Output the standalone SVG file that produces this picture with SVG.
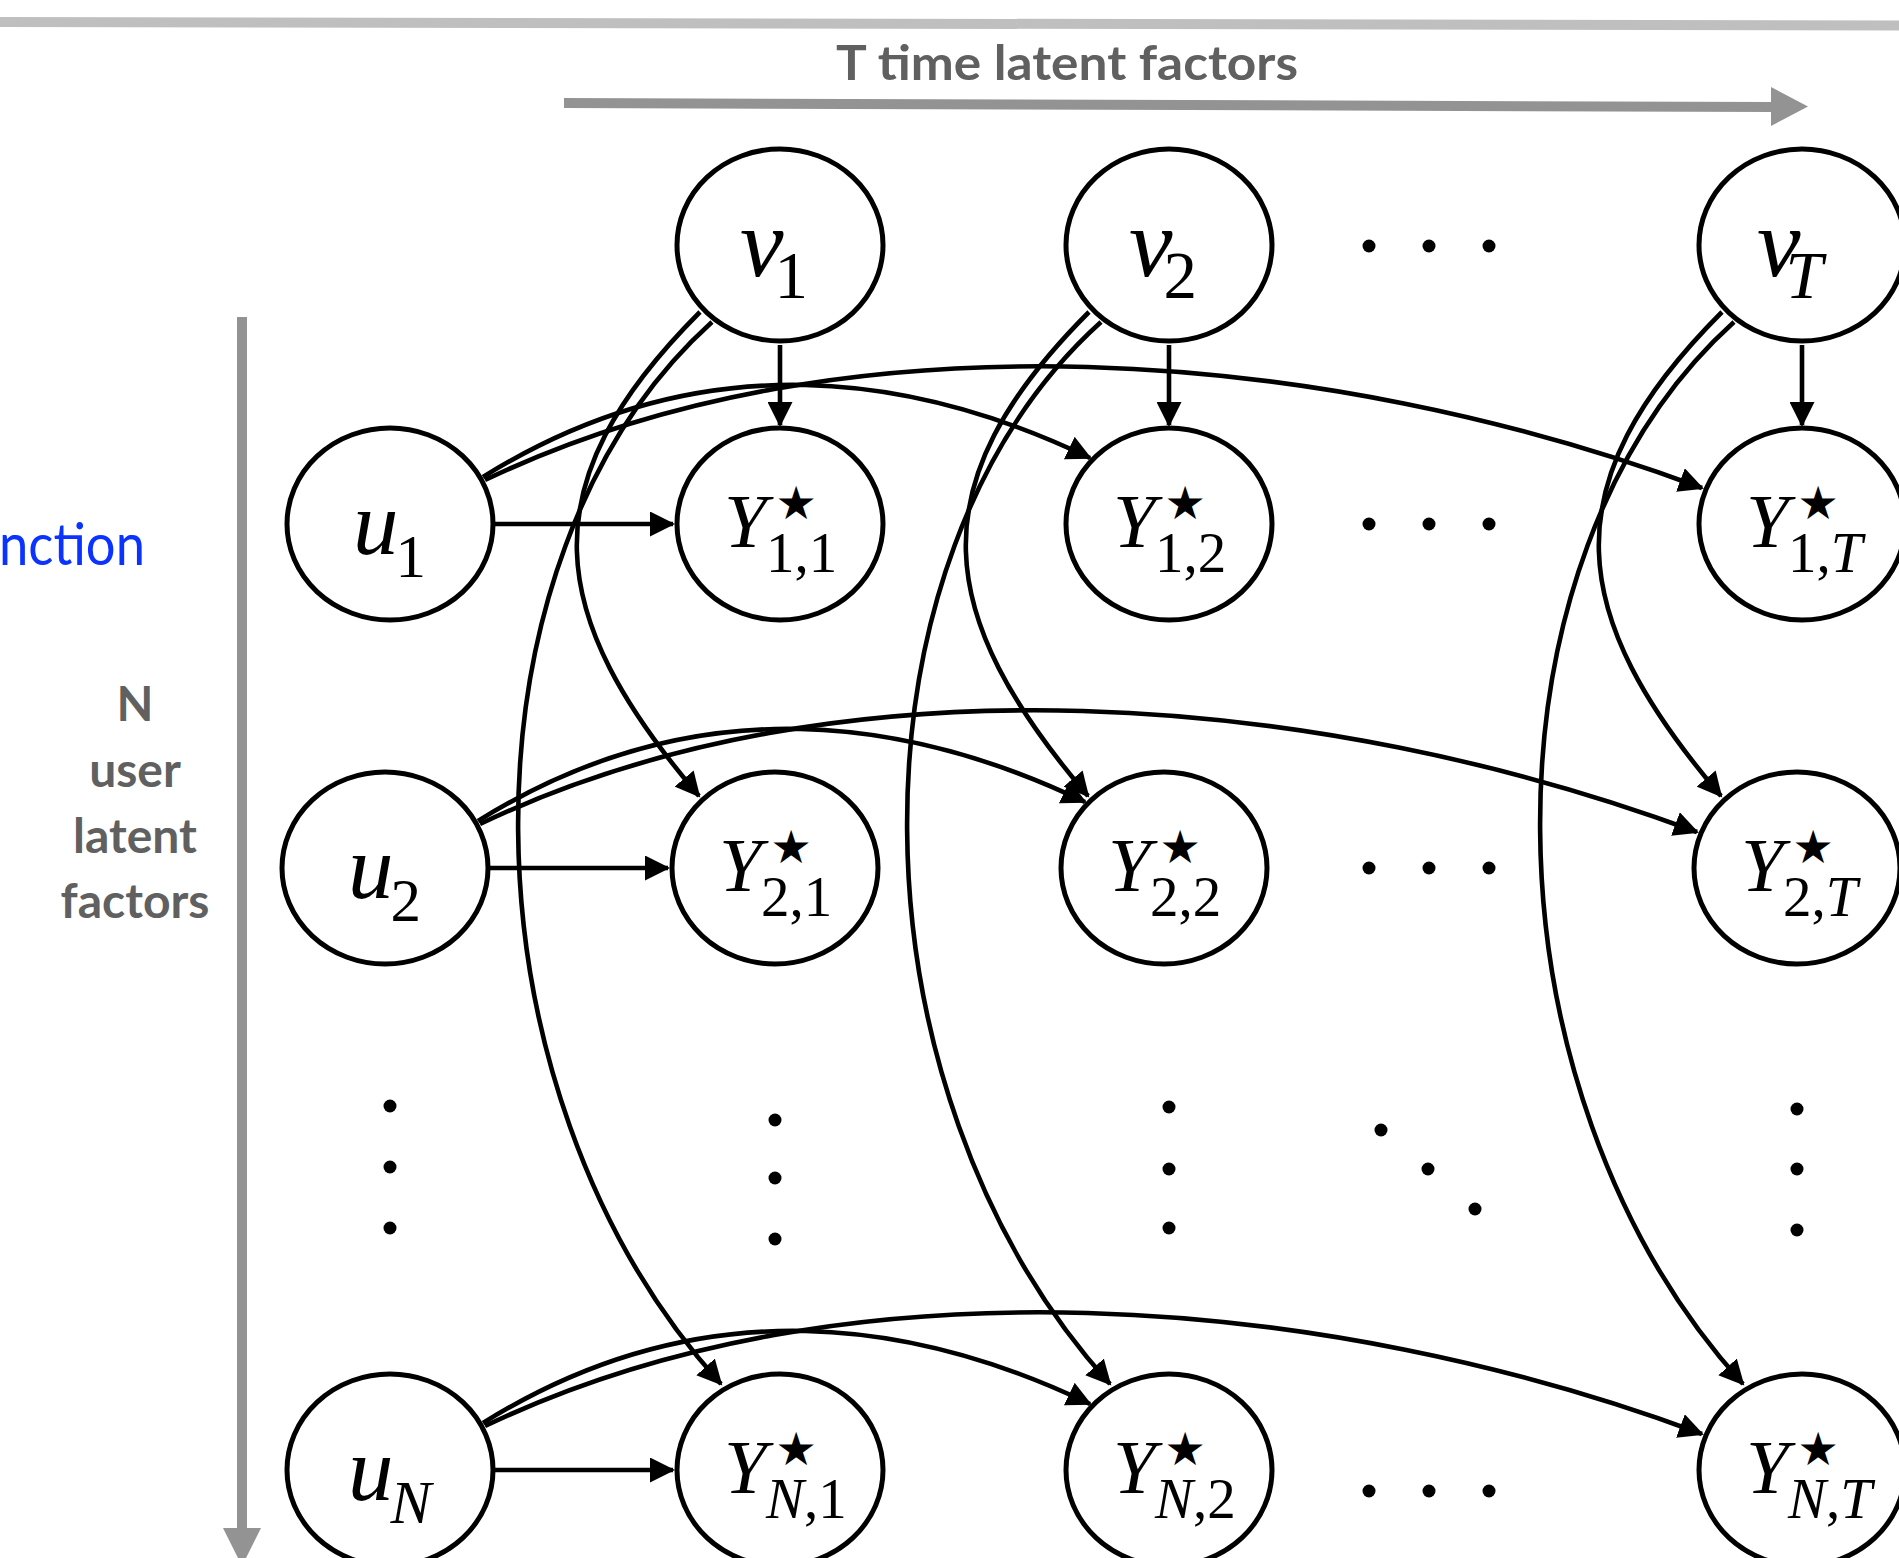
<svg xmlns="http://www.w3.org/2000/svg" width="1899" height="1558" viewBox="0 0 1899 1558">
<style>
.node{fill:#fff;stroke:#000;stroke-width:5}
.edge{fill:none;stroke:#000;stroke-width:4.6}
.mi{font-family:"Liberation Serif","Times New Roman",serif;font-style:italic;fill:#000}
.rm{font-family:"Liberation Serif","Times New Roman",serif;fill:#000}
.up{font-style:normal}
.it{font-style:italic}
.star{font-family:"DejaVu Sans",sans-serif;font-size:46px;text-anchor:middle;fill:#000}
.ylab{font-size:77px}
.ysub{font-size:57px}
.ulab{font-size:91px}
.vlab{font-size:98px}
.gray{font-family:Lato,"Open Sans",sans-serif;font-weight:700;fill:#606060}
.dot{fill:#000}
</style>
<defs>
<marker id="ah" markerUnits="userSpaceOnUse" markerWidth="27" markerHeight="25" viewBox="0 0 27 25" refX="23" refY="12.5" orient="auto">
<path d="M0,0 L25,12.5 L0,25 z" fill="#000"/>
</marker>
</defs>
<rect width="1899" height="1558" fill="#fff"/>

<g id="decor">
<line x1="0" y1="22" x2="1899" y2="25.5" stroke="#bfbfbf" stroke-width="10"/>
<line x1="564" y1="103" x2="1773" y2="107" stroke="#939393" stroke-width="10"/>
<polygon points="1771,87 1808,106.5 1771,126" fill="#939393"/>
<text class="gray" x="1067" y="80" font-size="48" text-anchor="middle" textLength="462" lengthAdjust="spacingAndGlyphs">T time latent factors</text>
<line x1="242" y1="317" x2="242" y2="1530" stroke="#939393" stroke-width="10"/>
<polygon points="223,1528 261,1528 242,1566" fill="#939393"/>
<text x="-1" y="565" font-family="Lato,'Open Sans',sans-serif" font-size="58" fill="#0a33ff" textLength="146" lengthAdjust="spacingAndGlyphs">nction</text>
<g class="gray" font-size="48" text-anchor="middle">
<text x="135" y="721">N</text>
<text x="135" y="787">user</text>
<text x="135" y="853">latent</text>
<text x="135" y="918">factors</text>
</g>
</g>

<g id="connectors" class="edge" marker-end="url(#ah)">
<path d="M780,345 L780,425"/>
<path d="M1169,345 L1169,425"/>
<path d="M1802,345 L1802,425"/>
<path d="M495,524 L673,524"/>
<path d="M490,868 L668,868"/>
<path d="M495,1470 L673,1470"/>
<path d="M483,477 C704,339 919,376 1090,458"/>
<path d="M485,480 C845,308 1326,348 1702,488"/>
<path d="M478,821 C699,683 914,720 1085,802"/>
<path d="M480,824 C840,652 1321,692 1697,832"/>
<path d="M483,1423 C704,1285 919,1322 1090,1404"/>
<path d="M485,1426 C845,1254 1326,1294 1702,1434"/>
<path d="M700,312 C527,485 545,615 699,796"/>
<path d="M712,322 C451,557 453,1088 721,1384"/>
<path d="M1089,312 C916,485 934,615 1088,796"/>
<path d="M1101,322 C840,557 842,1088 1110,1384"/>
<path d="M1722,312 C1549,485 1567,615 1721,796"/>
<path d="M1734,322 C1473,557 1475,1088 1743,1384"/>
</g>

<g id="v1"><ellipse class="node" cx="780" cy="245" rx="103" ry="96"/><text class="mi vlab" x="740" y="276">v<tspan class="up" font-size="67" dx="-9" dy="22">1</tspan></text></g>
<g id="v2"><ellipse class="node" cx="1169" cy="245" rx="103" ry="96"/><text class="mi vlab" x="1129" y="276">v<tspan class="up" font-size="67" dx="-9" dy="22">2</tspan></text></g>
<g id="vT"><ellipse class="node" cx="1802" cy="245" rx="103" ry="96"/><text class="mi vlab" x="1757" y="276">v<tspan font-size="67" dx="-15" dy="22">T</tspan></text></g>

<g id="u1"><ellipse class="node" cx="390" cy="524" rx="103" ry="96"/><text class="mi ulab" x="353" y="554">u<tspan class="up" font-size="61" dx="-3" dy="23">1</tspan></text></g>
<g id="u2"><ellipse class="node" cx="385" cy="868" rx="103" ry="96"/><text class="mi ulab" x="348" y="898">u<tspan class="up" font-size="61" dx="-3" dy="23">2</tspan></text></g>
<g id="uN"><ellipse class="node" cx="390" cy="1470" rx="103" ry="96"/><text class="mi ulab" x="348" y="1500">u<tspan font-size="61" dx="-3" dy="23">N</tspan></text></g>

<g id="Y11"><ellipse class="node" cx="780" cy="524" rx="103" ry="96"/><text class="mi ylab" x="724" y="547">Y</text><text class="star" x="796" y="519">★</text><text class="rm ysub" x="766" y="572">1,1</text></g>
<g id="Y12"><ellipse class="node" cx="1169" cy="524" rx="103" ry="96"/><text class="mi ylab" x="1113" y="547">Y</text><text class="star" x="1185" y="519">★</text><text class="rm ysub" x="1155" y="572">1,2</text></g>
<g id="Y1T"><ellipse class="node" cx="1802" cy="524" rx="103" ry="96"/><text class="mi ylab" x="1746" y="547">Y</text><text class="star" x="1818" y="519">★</text><text class="rm ysub" x="1788" y="572">1,<tspan class="it">T</tspan></text></g>

<g id="Y21"><ellipse class="node" cx="775" cy="868" rx="103" ry="96"/><text class="mi ylab" x="719" y="891">Y</text><text class="star" x="791" y="863">★</text><text class="rm ysub" x="761" y="916">2,1</text></g>
<g id="Y22"><ellipse class="node" cx="1164" cy="868" rx="103" ry="96"/><text class="mi ylab" x="1108" y="891">Y</text><text class="star" x="1180" y="863">★</text><text class="rm ysub" x="1150" y="916">2,2</text></g>
<g id="Y2T"><ellipse class="node" cx="1797" cy="868" rx="103" ry="96"/><text class="mi ylab" x="1741" y="891">Y</text><text class="star" x="1813" y="863">★</text><text class="rm ysub" x="1783" y="916">2,<tspan class="it">T</tspan></text></g>

<g id="YN1"><ellipse class="node" cx="780" cy="1470" rx="103" ry="96"/><text class="mi ylab" x="724" y="1493">Y</text><text class="star" x="796" y="1465">★</text><text class="rm ysub" x="766" y="1518"><tspan class="it">N</tspan>,1</text></g>
<g id="YN2"><ellipse class="node" cx="1169" cy="1470" rx="103" ry="96"/><text class="mi ylab" x="1113" y="1493">Y</text><text class="star" x="1185" y="1465">★</text><text class="rm ysub" x="1155" y="1518"><tspan class="it">N</tspan>,2</text></g>
<g id="YNT"><ellipse class="node" cx="1802" cy="1470" rx="103" ry="96"/><text class="mi ylab" x="1746" y="1493">Y</text><text class="star" x="1818" y="1465">★</text><text class="rm ysub" x="1788" y="1518"><tspan class="it">N</tspan>,<tspan class="it">T</tspan></text></g>

<g id="dots" class="dot">
<circle cx="1369" cy="246" r="6.5"/><circle cx="1429" cy="246" r="6.5"/><circle cx="1489" cy="246" r="6.5"/>
<circle cx="1369" cy="524" r="6.5"/><circle cx="1429" cy="524" r="6.5"/><circle cx="1489" cy="524" r="6.5"/>
<circle cx="1369" cy="868" r="6.5"/><circle cx="1429" cy="868" r="6.5"/><circle cx="1489" cy="868" r="6.5"/>
<circle cx="1369" cy="1491" r="6.5"/><circle cx="1429" cy="1491" r="6.5"/><circle cx="1489" cy="1491" r="6.5"/>
<circle cx="390" cy="1106" r="6.5"/><circle cx="390" cy="1167" r="6.5"/><circle cx="390" cy="1228" r="6.5"/>
<circle cx="775" cy="1120" r="6.5"/><circle cx="775" cy="1178" r="6.5"/><circle cx="775" cy="1239" r="6.5"/>
<circle cx="1169" cy="1107" r="6.5"/><circle cx="1169" cy="1169" r="6.5"/><circle cx="1169" cy="1228" r="6.5"/>
<circle cx="1797" cy="1109" r="6.5"/><circle cx="1797" cy="1169" r="6.5"/><circle cx="1797" cy="1230" r="6.5"/>
<circle cx="1381" cy="1130" r="6.5"/><circle cx="1428" cy="1169" r="6.5"/><circle cx="1475" cy="1209" r="6.5"/>
</g>
</svg>
